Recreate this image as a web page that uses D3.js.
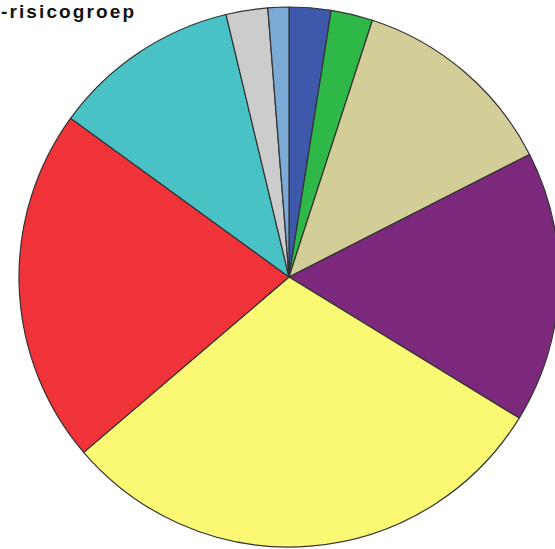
<!DOCTYPE html>
<html>
<head>
<meta charset="utf-8">
<script src="https://cdn.jsdelivr.net/npm/d3@7"></script>
<style>
  html, body { margin: 0; padding: 0; background: #fff; }
  svg { display: block; }
</style>
</head>
<body>
<svg id="chart" width="555" height="549"></svg>
<script>
// Data (counts; clockwise from 12 o'clock)
const categories = ["Groep 1", "Groep 2", "Groep 3", "Groep 4", "Groep 5", "Groep 6", "Groep 7", "Groep 8", "Groep 9"];
const values = [2, 2, 10, 13, 24, 17, 9, 2, 1];
const colors = ["#3E58AC", "#2EB848", "#D3CE97", "#7C287D", "#FBF873", "#EF3338", "#48C2C5", "#CCCCCC", "#7AAAD5"];
const titleText = "-risicogroep";

const svg = d3.select("#chart");
const cx = 289, cy = 277, r = 270;

const data = categories.map((c, i) => ({ category: c, value: values[i] }));
const color = d3.scaleOrdinal().domain(categories).range(colors);

const pie = d3.pie().value(d => d.value).sort(null);
const arc = d3.arc().innerRadius(0).outerRadius(r);

const g = svg.append("g").attr("transform", `translate(${cx},${cy})`);
g.selectAll("path")
  .data(pie(data))
  .join("path")
  .attr("d", arc)
  .attr("fill", d => color(d.data.category))
  .attr("stroke", "#333")
  .attr("stroke-width", 1.2)
  .attr("stroke-linejoin", "round");

svg.append("text")
  .attr("x", 1)
  .attr("y", 18)
  .attr("font-family", "Liberation Sans, Arial, sans-serif")
  .attr("font-weight", "bold")
  .attr("font-size", 19)
  .attr("textLength", 133)
  .attr("lengthAdjust", "spacing")
  .attr("fill", "#111")
  .text(titleText);
</script>
</body>
</html>
